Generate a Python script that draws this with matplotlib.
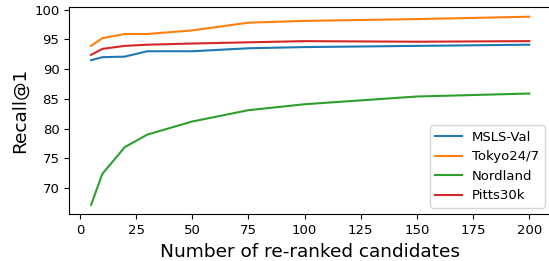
import matplotlib
matplotlib.use('Agg')
import matplotlib.pyplot as plt

candidates = [5, 10, 20, 30, 50, 75, 100, 150, 200]
msls_val = [91.5, 92.0, 92.1, 93.0, 93.0, 93.5, 93.7, 93.9, 94.1]
tokyo247 = [93.9, 95.2, 95.9, 95.9, 96.5, 97.8, 98.1, 98.4, 98.8]
nordland = [67.2, 72.4, 76.9, 79.0, 81.2, 83.1, 84.1, 85.4, 85.9]
pitts30k = [92.4, 93.4, 93.9, 94.1, 94.3, 94.5, 94.7, 94.6, 94.7]

fig, ax = plt.subplots(figsize=(5.49, 2.61), dpi=100)
ax.plot(candidates, msls_val, label='MSLS-Val')
ax.plot(candidates, tokyo247, label='Tokyo24/7')
ax.plot(candidates, nordland, label='Nordland')
ax.plot(candidates, pitts30k, label='Pitts30k')

ax.set_xlabel('Number of re-ranked candidates', fontsize=13.3)
ax.set_ylabel('Recall@1', fontsize=13.3)
ax.tick_params(labelsize=9.5)
ax.legend(loc='lower right', fontsize=9.5)

fig.subplots_adjust(left=0.126, right=1.004, top=0.972, bottom=0.179)
fig.savefig('out.png', dpi=100)
plt.close(fig)
